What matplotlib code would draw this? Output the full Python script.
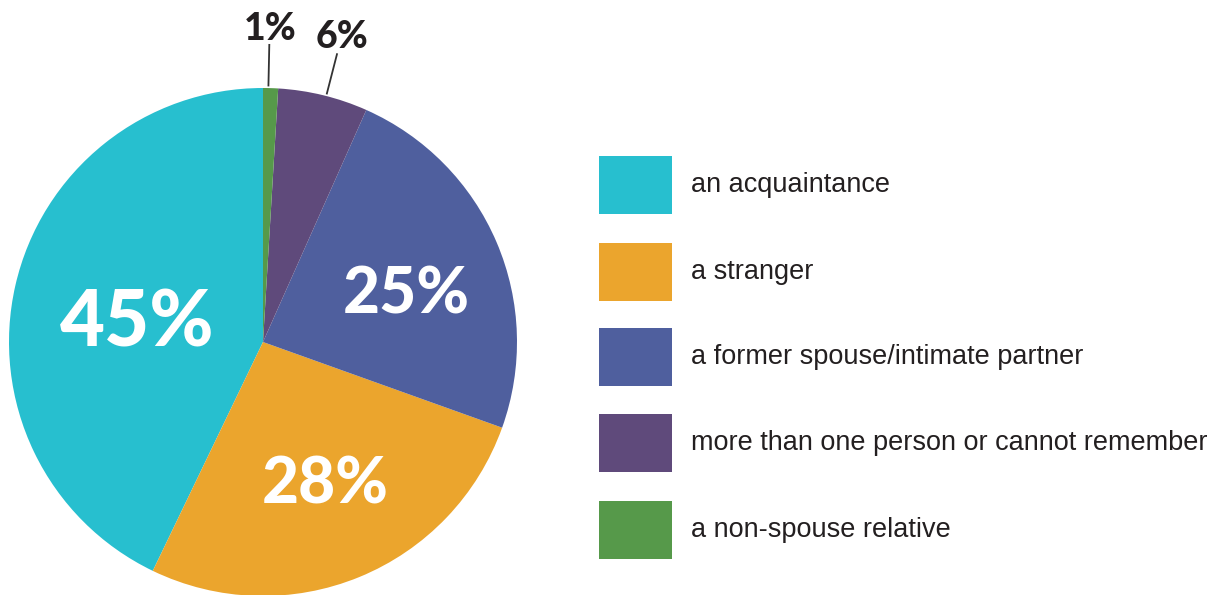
import numpy as np
from matplotlib import pyplot as plt
from matplotlib.patches import Rectangle

categories = [
    "an acquaintance",
    "a stranger",
    "a former spouse/intimate partner",
    "more than one person or cannot remember",
    "a non-spouse relative",
]
values = [45, 28, 25, 6, 1]
pct_labels = ["45%", "28%", "25%", "6%", "1%"]
colors = ["#27BFCF", "#EBA52D", "#4F5F9E", "#5F4A7B", "#56994A"]

TEXT_DARK = "#231F20"

fig = plt.figure(figsize=(12.23, 5.95), dpi=100)

# pie axes: center ~ (263, 342) px, radius ~254 px
W, H = 1223, 595
cx, cy, r = 263, 342, 254
ax = fig.add_axes([(cx - r) / W, (H - cy - r) / H, 2 * r / W, 2 * r / H])
wedges, _ = ax.pie(values, colors=colors, startangle=90, counterclock=True,
                   radius=1, wedgeprops=dict(linewidth=0))
ax.set_xlim(-1, 1)
ax.set_ylim(-1, 1)
ax.set_aspect("equal")
ax.axis("off")

# label placement: (radius, angle offset in deg, font size)
placement = {
    "45%": (0.505, 2.0, 56),
    "28%": (0.595, 2.0, 46),
    "25%": (0.60, -3.0, 46),
    "6%": (1.25, -0.7, 27),
    "1%": (1.245, 0.5, 27),
}
for w, lab in zip(wedges, pct_labels):
    rad, off, size = placement[lab]
    mid = np.deg2rad((w.theta1 + w.theta2) / 2 + off)
    if rad < 1:
        ax.text(rad * np.cos(mid), rad * np.sin(mid), lab, color="white",
                fontsize=size, fontweight="black", family="Lato",
                ha="center", va="center_baseline")
    else:
        ax.plot([1.01 * np.cos(mid), 1.17 * np.cos(mid)],
                [1.01 * np.sin(mid), 1.17 * np.sin(mid)],
                color="#333333", lw=1.3, clip_on=False)
        ax.text(rad * np.cos(mid), rad * np.sin(mid), lab, color=TEXT_DARK,
                fontsize=size, fontweight="black", family="Lato",
                ha="center", va="center_baseline", clip_on=False)

# legend on the right
lax = fig.add_axes([0, 0, 1, 1])
lax.set_xlim(0, W)
lax.set_ylim(H, 0)
lax.axis("off")
sw_top = [156, 243, 328, 414, 501]
for top, cat, col in zip(sw_top, categories, colors):
    lax.add_patch(Rectangle((599, top), 73, 58, facecolor=col, edgecolor="none"))
    lax.text(691, top + 29, cat, color=TEXT_DARK, fontsize=19.5,
             family="Liberation Sans", ha="left", va="center")

fig.savefig("out.png", dpi=100)
